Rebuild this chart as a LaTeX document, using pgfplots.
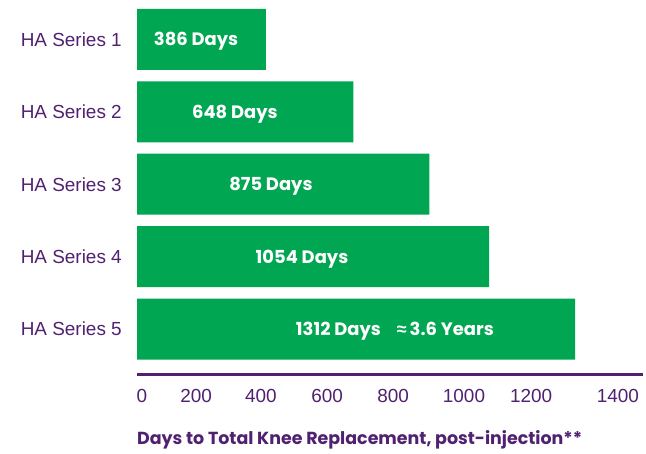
\documentclass[border=0pt]{standalone}
\usepackage{pgfplots}
\pgfplotsset{compat=1.18}
\usepackage{fontspec}
\setmainfont{Liberation Sans}
\newfontfamily\pop{Poppins}
\definecolor{hagreen}{HTML}{00A651}
\definecolor{hapurple}{HTML}{4F2170}
\tikzset{barlab/.style={text=white, font=\pop\bfseries\fontsize{18}{18}\selectfont, anchor=base, yshift=-6.5bp}}
\begin{document}
\begin{tikzpicture}[x=1bp,y=1bp]
\useasboundingbox (0,0) rectangle (646,454);
\begin{axis}[
  at={(137bp,79bp)}, anchor=south west,
  scale only axis, width=506bp, height=366bp,
  xmin=0, xmax=1515, ymin=0.365, ymax=5.421,
  xbar, bar width=61bp, bar shift=0pt,
  axis lines*=left,
  y axis line style={draw=none},
  x axis line style={draw=hapurple, line width=3bp, -},
  major tick length=0pt,
  ytick={1,2,3,4,5},
  yticklabels={HA Series 5,HA Series 4,HA Series 3,HA Series 2,HA Series 1},
  yticklabel style={font=\fontsize{19}{19}\selectfont, text=hapurple, anchor=east, inner sep=0pt, xshift=-15bp},
  xtick={15,177,371,569,767,979,1180,1440},
  xticklabels={0,200,400,600,800,1000,1200,1400},
  xticklabel style={font=\fontsize{19}{19}\selectfont, text=hapurple, anchor=north, inner sep=0pt, yshift=-14bp},
  clip=false,
]
\addplot[fill=hagreen, draw=none] coordinates {(386,5) (648,4) (875,3) (1054,2) (1312,1)};
\node[barlab] at (axis cs:177,5) {386 Days};
\node[barlab] at (axis cs:293,4) {648 Days};
\node[barlab] at (axis cs:401,3) {875 Days};
\node[barlab] at (axis cs:494,2) {1054 Days};
\node[barlab] at (axis cs:772,1) {1312 Days\hspace{16bp}{\fontspec{Liberation Sans}\bfseries ≈}\,3.6 Years};
\end{axis}
\node[anchor=west, inner sep=0pt, text=hapurple] at (137,14) {\pop\bfseries\fontsize{17.5}{17.5}\selectfont Days to Total Knee Replacement, post-injection**};
\end{tikzpicture}
\end{document}
